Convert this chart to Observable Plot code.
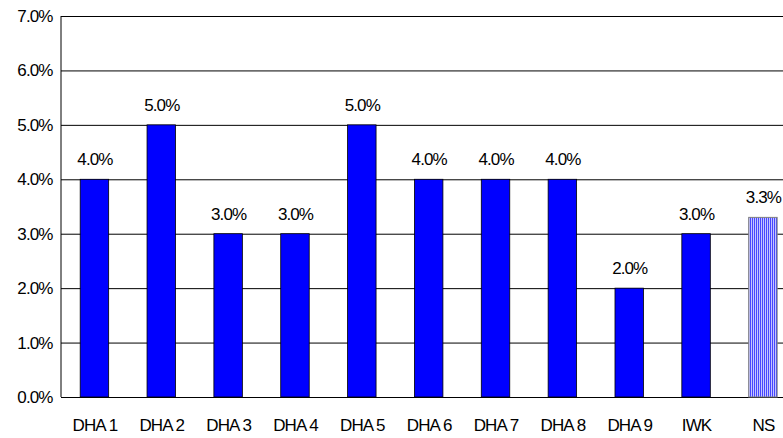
<!DOCTYPE html>
<html>
<head>
<meta charset="utf-8">
<script src="https://cdn.jsdelivr.net/npm/d3@7"></script>
<script src="https://cdn.jsdelivr.net/npm/@observablehq/plot@0.6"></script>
<style>
  html, body { margin: 0; padding: 0; background: #fff; overflow: hidden; }
  #chart svg { display: block; }
</style>
</head>
<body>
<div id="chart"></div>
<script>
const categories = ["DHA 1", "DHA 2", "DHA 3", "DHA 4", "DHA 5", "DHA 6", "DHA 7", "DHA 8", "DHA 9", "IWK", "NS"];
const values = [0.04, 0.05, 0.03, 0.03, 0.05, 0.04, 0.04, 0.04, 0.02, 0.03, 0.033];
const yTicks = [0, 0.01, 0.02, 0.03, 0.04, 0.05, 0.06, 0.07];

const data = categories.map((c, i) => ({category: c, value: values[i], total: c === "NS"}));

const fmt = d3.format(".1%");
const W = 783, H = 438;
const mLeft = 61, mTop = 16, mBottom = 41;
const step = 66.85;
const xEnd = mLeft + step * categories.length;
const FS = 17;

const plot = Plot.plot({
  width: W,
  height: H,
  marginLeft: mLeft,
  marginTop: mTop,
  marginBottom: mBottom,
  marginRight: 0,
  style: {fontFamily: "'Liberation Sans', Arial, sans-serif", fontSize: FS + "px", color: "#000", background: "#fff", overflow: "visible"},
  x: {domain: categories, range: [mLeft, xEnd], paddingInner: 0.574, paddingOuter: 0.287, round: false, label: null, axis: null},
  y: {domain: [0, 0.07], range: [H - mBottom, mTop], label: null, axis: null},
  marks: [
    Plot.ruleY(yTicks, {stroke: "#000", strokeWidth: 1}),
    Plot.barY(data.filter(d => !d.total), {x: "category", y: "value", fill: "#0000ff", stroke: "#000", strokeWidth: 0.8}),
    Plot.barY(data.filter(d => d.total), {x: "category", y: "value", fill: "url(#stripes)", stroke: "#808080", strokeWidth: 1}),
    Plot.text(data, {x: "category", y: "value", text: d => fmt(d.value), dy: -20, fill: "#000", fontSize: FS, lineAnchor: "middle"}),
    Plot.axisY(yTicks, {anchor: "left", tickSize: 0, tickPadding: 9, tickFormat: fmt, fontSize: FS, fill: "#000"}),
    Plot.axisX({anchor: "bottom", tickSize: 0, tickPadding: 21, fontSize: FS, fill: "#000"})
  ]
});

// defs for the striped NS bar
const svgNS = "http://www.w3.org/2000/svg";
const defs = document.createElementNS(svgNS, "defs");
const pat = document.createElementNS(svgNS, "pattern");
pat.setAttribute("id", "stripes");
pat.setAttribute("patternUnits", "userSpaceOnUse");
pat.setAttribute("width", "2");
pat.setAttribute("height", "4");
const bg = document.createElementNS(svgNS, "rect");
bg.setAttribute("width", "2"); bg.setAttribute("height", "4"); bg.setAttribute("fill", "#c4c4ff");
const fg = document.createElementNS(svgNS, "rect");
fg.setAttribute("width", "1"); fg.setAttribute("height", "4"); fg.setAttribute("fill", "#4646ff");
pat.appendChild(bg); pat.appendChild(fg);
defs.appendChild(pat);
plot.insertBefore(defs, plot.firstChild);

// left axis line (frame left edge)
const yScale = plot.scale("y");
const line = document.createElementNS(svgNS, "line");
line.setAttribute("x1", mLeft); line.setAttribute("x2", mLeft);
line.setAttribute("y1", yScale.apply(0.07)); line.setAttribute("y2", yScale.apply(0));
line.setAttribute("stroke", "#000");
plot.appendChild(line);

plot.querySelectorAll("text").forEach(t => t.setAttribute("letter-spacing", "-0.9"));

document.getElementById("chart").appendChild(plot);
</script>
</body>
</html>
